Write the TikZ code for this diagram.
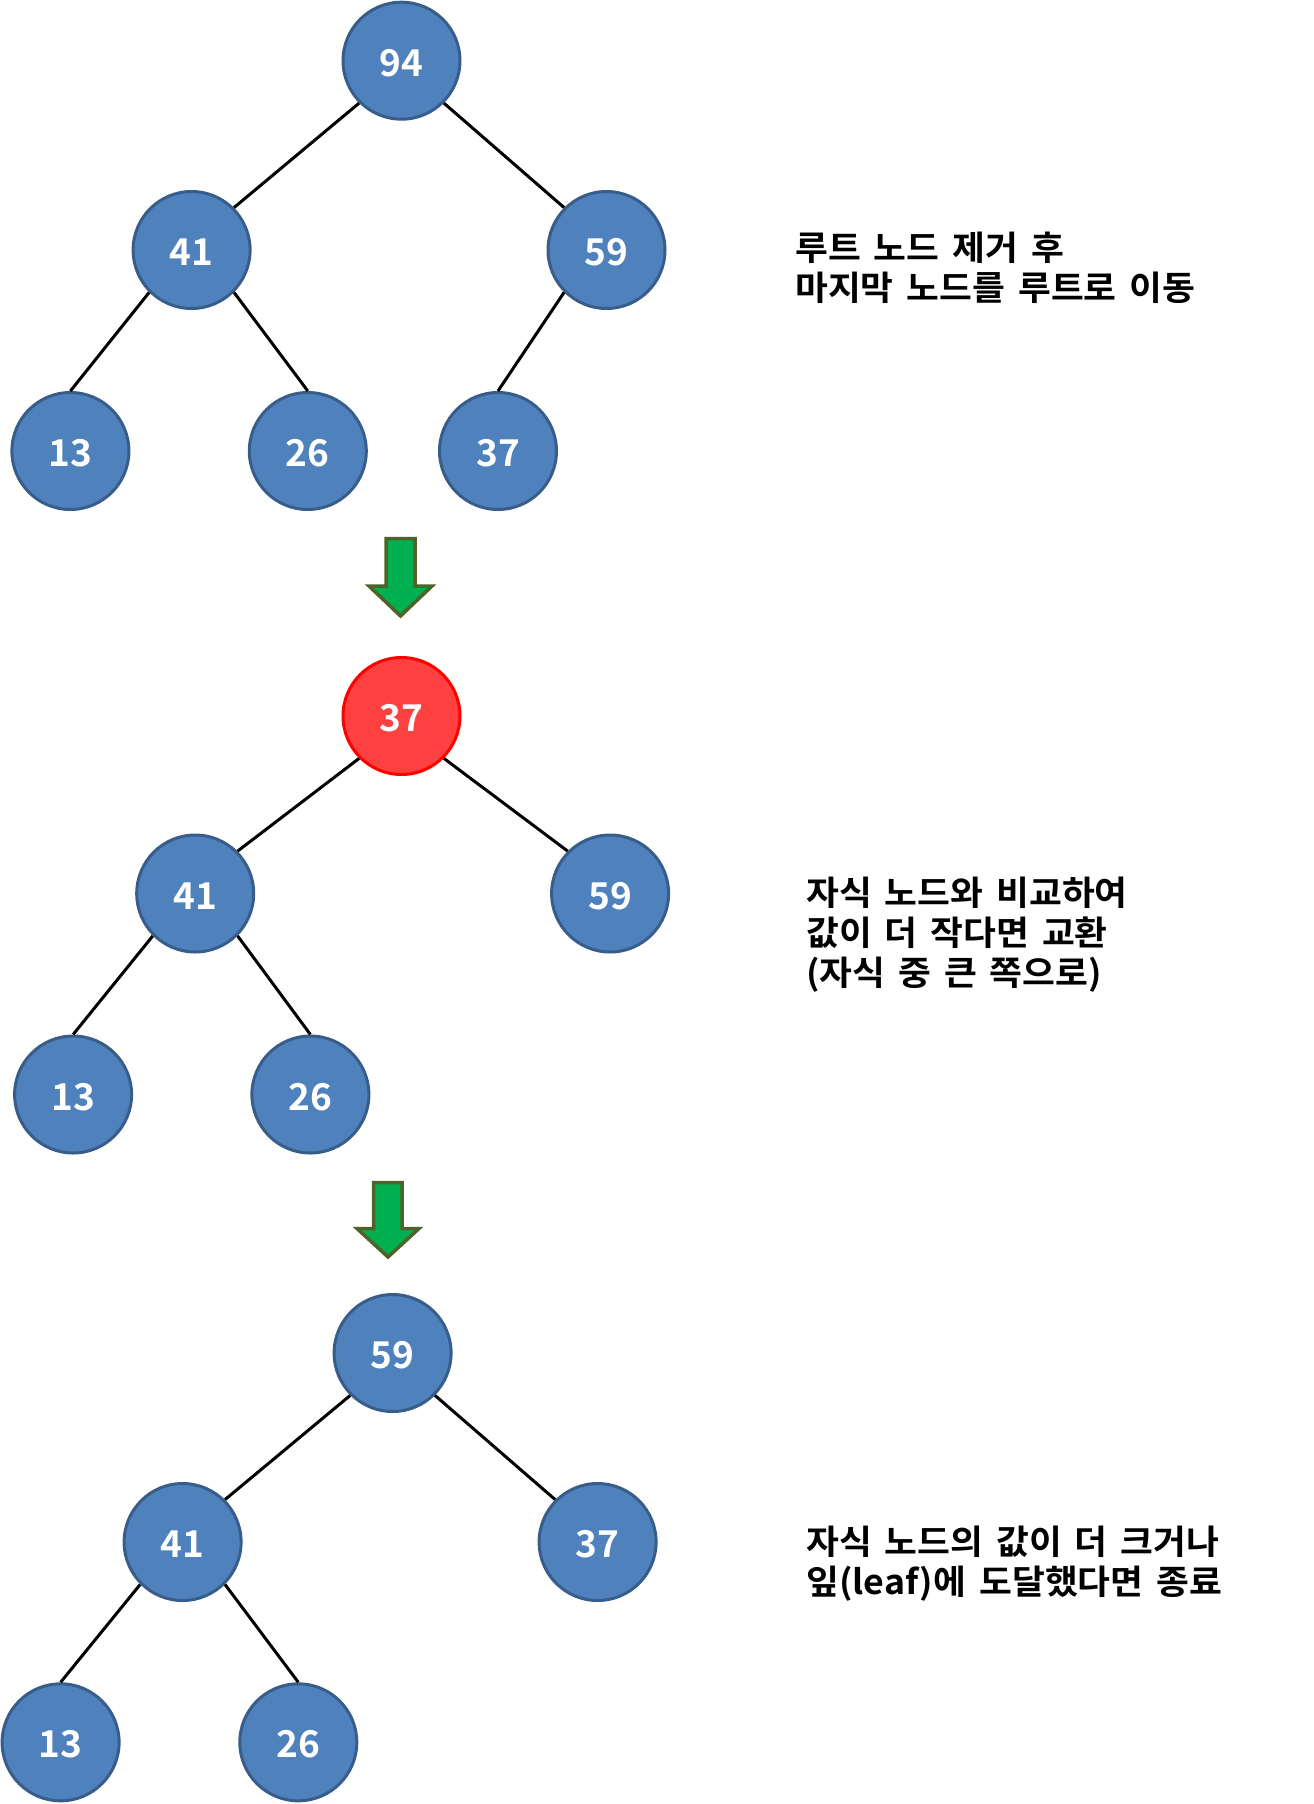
\documentclass[tikz,border=0pt]{standalone}
\usepackage{fontspec}
\newfontfamily\kr{Noto Sans CJK KR Bold}[WordSpace=1.6,FakeStretch=1.05]
\newfontfamily\krnum{Noto Sans CJK KR Bold}
\definecolor{nodeblue}{HTML}{4F81BD}
\definecolor{nodeedge}{HTML}{385D8A}
\definecolor{hotfill}{HTML}{FF4040}
\definecolor{hotedge}{HTML}{FF0000}
\definecolor{arrowgreen}{HTML}{00B050}
\definecolor{arrowedge}{HTML}{4F6228}
\begin{document}
\begin{tikzpicture}[x=1pt,y=-1pt,
  hnode/.style={circle, minimum size=117pt, inner sep=0pt, line width=3pt,
    fill=nodeblue, draw=nodeedge, text=white, text height=31pt, text depth=0pt,
    font=\krnum\fontsize{37}{40}\selectfont},
  hot/.style={hnode, fill=hotfill, draw=hotedge},
  link/.style={line width=3pt, draw=black},
  note/.style={anchor=base west, align=left, inner sep=0pt,
    font=\kr\fontsize{34}{40}\selectfont},
  downarrow/.style={fill=arrowgreen, draw=arrowedge, line width=3.5pt, line join=miter}]
\useasboundingbox (0,0) rectangle (1314,1804);

% ---- tree 1
\node[hnode] (a94) at (401.5,60.7) {94};
\node[hnode] (a41) at (191.6,250) {41};
\node[hnode] (a59) at (606.5,250) {59};
\node[hnode] (a13) at (70.4,451) {13};
\node[hnode] (a26) at (307.8,451) {26};
\node[hnode] (a37) at (498,451) {37};
\draw[link] (a94.south west) -- (a41.north east);
\draw[link] (a94.south east) -- (a59.north west);
\draw[link] (a41.south west) -- (a13.north);
\draw[link] (a41.south east) -- (a26.north);
\draw[link] (a59.south west) -- (a37.north);
% anchor = baseline of the last line
\node[note] (t1) at (795,300) {루트 노드 제거 후\\마지막 노드를 루트로 이동};

% ---- arrow 1
\draw[downarrow] (386,538.5) -- (415,538.5) -- (415,586) -- (432,586) -- (400.5,616)
  -- (369,586) -- (386,586) -- cycle;

% ---- tree 2
\node[hot] (b37) at (401.5,716) {37};
\node[hnode] (b41) at (195.2,893.5) {41};
\node[hnode] (b59) at (610.1,893.5) {59};
\node[hnode] (b13) at (73.1,1094.5) {13};
\node[hnode] (b26) at (310.4,1094.5) {26};
\draw[link] (b37.south west) -- (b41.north east);
\draw[link] (b37.south east) -- (b59.north west);
\draw[link] (b41.south west) -- (b13.north);
\draw[link] (b41.south east) -- (b26.north);
\node[note] (t2) at (806,985) {자식 노드와 비교하여\\값이 더 작다면 교환\\(자식 중 큰 쪽으로)};

% ---- arrow 2
\draw[downarrow] (373.5,1182.5) -- (402,1182.5) -- (402,1228.5) -- (419,1228.5) -- (388,1257)
  -- (357,1228.5) -- (373.5,1228.5) -- cycle;

% ---- tree 3
\node[hnode] (c59) at (392.6,1353) {59};
\node[hnode] (c41) at (182.6,1542) {41};
\node[hnode] (c37) at (597.6,1542) {37};
\node[hnode] (c13) at (60.6,1742.3) {13};
\node[hnode] (c26) at (298.3,1742.3) {26};
\draw[link] (c59.south west) -- (c41.north east);
\draw[link] (c59.south east) -- (c37.north west);
\draw[link] (c41.south west) -- (c13.north);
\draw[link] (c41.south east) -- (c26.north);
\node[note] (t3) at (806,1594) {자식 노드의 값이 더 크거나\\잎(leaf)에 도달했다면 종료};
\end{tikzpicture}
\end{document}
